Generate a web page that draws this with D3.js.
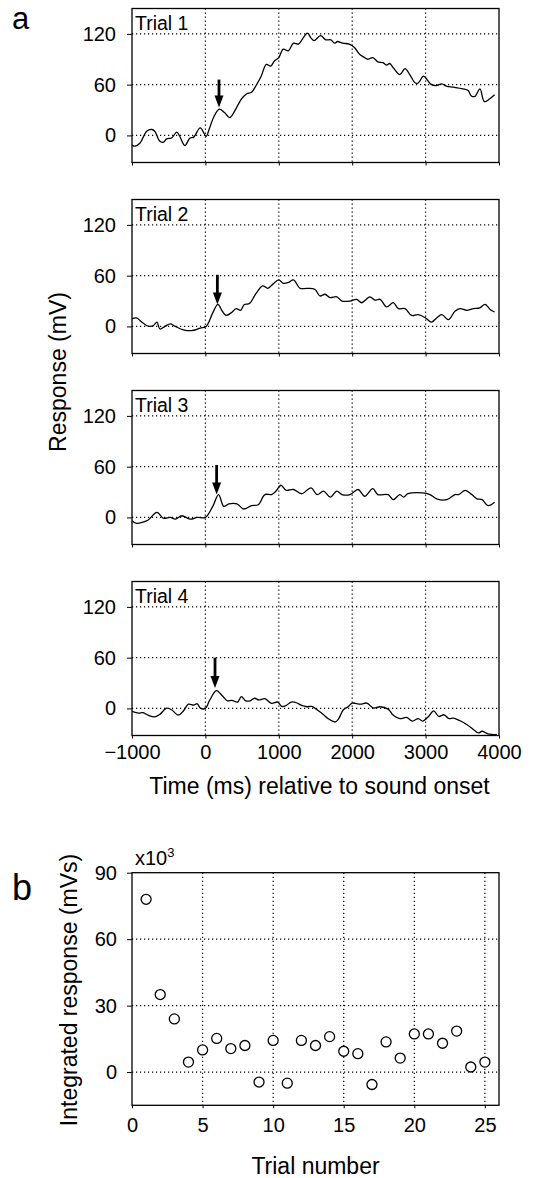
<!DOCTYPE html>
<html>
<head>
<meta charset="utf-8">
<script src="https://cdn.jsdelivr.net/npm/d3@7"></script>
<style>
  body { margin: 0; background: #fff; }
</style>
</head>
<body>
<div id="chart"></div>
<script>
// ---- data ----
var trialNames = ["Trial 1", "Trial 2", "Trial 3", "Trial 4"];
var timeTicks = [-1000, 0, 1000, 2000, 3000, 4000];
var respTicks = [0, 60, 120];

var trial1Time = [-1000,-960,-890,-800,-730,-690,-620,-570,-530,-460,-390,-350,-280,-210,-160,-70,10,50,120,190,260,330,400,490,560,630,690,760,830,890,940,1000,1060,1130,1200,1270,1330,1390,1440,1480,1570,1640,1710,1760,1800,1870,1960,2030,2100,2170,2210,2280,2350,2420,2470,2510,2560,2650,2720,2790,2860,2900,2970,3010,3080,3150,3220,3290,3380,3510,3580,3620,3670,3740,3800,3870,3940];
var trial1Resp = [-11.5,-12.7,-9,5,7,5,-7,-8,-4,-3,4,-1,-12,-3,-2,9,-1,7,23,31,27,21,29,43,49,51,59,70,84,82,88,92,102,100,109,108,115,121,115,112,118,113,113,109,111,109,108,104,96,92,90,92,87,86,83,85,80,72,79,71,62,62,70,67,60,59,61,58,57,55,53,47,46,55,40,43,48];

var trial2Time = [-1000,-940,-850,-780,-710,-660,-620,-550,-480,-410,-300,-190,-70,10,100,170,230,280,350,420,480,530,600,690,780,850,920,1000,1060,1130,1200,1290,1380,1490,1560,1630,1700,1790,1860,1970,2060,2130,2240,2310,2380,2470,2560,2630,2720,2810,2900,3000,3080,3150,3220,3310,3400,3470,3560,3650,3740,3810,3880,3940];
var trial2Resp = [9,10,4,0.4,1,5,-3,0,3,0,-4,-5,-2,0,16,26,18,13,16,21,19,26,27,39,48,45,50,55,51,52,55,45,45,44,36,38,34,35,30,30,32,28,35,31,32,23,28,21,21,13,14,10,5,10,14,8,18,21,19,21,22,26,20,17];

var trial3Time = [-1000,-940,-850,-780,-660,-570,-480,-410,-320,-210,-110,0,100,180,250,320,430,520,630,720,810,900,960,1030,1100,1200,1310,1440,1520,1610,1700,1790,1860,1970,2080,2170,2280,2350,2490,2560,2650,2700,2760,2960,3060,3150,3290,3400,3450,3540,3630,3700,3770,3850,3940];
var trial3Resp = [-4,-7,-5.5,-3,6,-1,0,-2,2,-2,0,0,13,27,13,16,16,10,14,15,27,27,31,38,32,33,28,35,27,31,24,31,27,27,33,25,34,27,27,21,27,24,28,29,27,22,21,27,27,32,27,22,21,14,18];

var trial4Time = [-1000,-910,-850,-780,-690,-620,-530,-460,-370,-300,-230,-160,-110,-70,0,60,150,230,300,360,440,490,550,610,670,730,810,900,985,1040,1100,1170,1240,1310,1380,1450,1540,1610,1670,1770,1810,1880,1950,2000,2110,2200,2290,2380,2490,2560,2650,2740,2820,2900,2960,3040,3110,3180,3250,3320,3380,3470,3560,3650,3720,3770,3850,3970];
var trial4Resp = [-3.5,-5.5,-5,-8,-10,-7,0.4,-1.6,-8,-3,5,4,5.5,0.4,0,10,21,15,9,9.5,7.5,14,9,9,12,10,11.5,6,7.5,2.4,3.5,7.5,6.7,3.5,2,2.4,-2.8,-7.5,-12,-16,-13,-1.6,2.4,6.3,5,6.3,0.4,2,-0.8,-8,-12,-10.7,-15,-12,-15,-9.5,-2.8,-9.5,-7.5,-12,-11.5,-14.6,-19,-25,-29,-27,-30,-31];

// arrows: time, response at top of shaft, response at tip
var arrowTime = [185, 163, 153, 131];
var arrowTop = [66, 61, 62, 60];
var arrowTip = [33, 26, 27, 24];

var trialNumber = [1,2,3,4,5,6,7,8,9,10,11,12,13,14,15,16,17,18,19,20,21,22,23,24,25];
var integrated = [78,35,24,4.5,10,15.2,10.6,12,-4.5,14.3,-5,14.3,12,16,9.4,8.3,-5.6,13.6,6.3,17.2,17.2,13,18.5,2.3,4.5];
var trialTicks = [0, 5, 10, 15, 20, 25];
var integTicks = [0, 30, 60, 90];

// ---- layout ----
var width = 541, height = 1178;
var left = 132, right = 499;
var panelTop = [8.5, 199.5, 390.5, 581.5], panelH = 154;
var font = "'Liberation Sans', Arial, Helvetica, sans-serif";

var svg = d3.select("#chart")
    .append("svg")
    .attr("width", width)
    .attr("height", height)
    .attr("font-family", font);

var traces = [
    d3.zip(trial1Time, trial1Resp),
    d3.zip(trial2Time, trial2Resp),
    d3.zip(trial3Time, trial3Resp),
    d3.zip(trial4Time, trial4Resp)
];

var x = d3.scaleLinear().domain([-1000, 4000]).range([left, right]);

function dotted(sel){
    sel.attr("stroke", "#000")
        .attr("stroke-width", 1.2)
        .attr("stroke-dasharray", "1.2,2.8");
}

traces.forEach(function(data, i){
    var top = panelTop[i], bottom = top + panelH;
    var y = d3.scaleLinear().domain([-32, 150]).range([bottom, top]);
    var g = svg.append("g");

    var clipId = "clip" + i;
    g.append("clipPath").attr("id", clipId)
        .append("rect")
        .attr("x", left).attr("y", top)
        .attr("width", right - left).attr("height", panelH);

    // grid
    g.selectAll(".vgrid")
        .data(timeTicks.slice(1, -1))
        .enter().append("line")
        .attr("x1", d => x(d)).attr("x2", d => x(d))
        .attr("y1", top).attr("y2", bottom)
        .call(dotted);
    g.selectAll(".hgrid")
        .data(respTicks)
        .enter().append("line")
        .attr("x1", left).attr("x2", right)
        .attr("y1", d => y(d)).attr("y2", d => y(d))
        .call(dotted);

    // y axis
    var ya = g.append("g")
        .attr("transform", "translate(" + left + ",0)")
        .call(d3.axisLeft(y).tickValues(respTicks).tickSize(5).tickPadding(11));
    ya.select(".domain").remove();
    ya.selectAll("text").attr("font-size", 20).attr("font-family", font).attr("fill", "#000");

    // x axis (labels only on last panel)
    var xa = g.append("g")
        .attr("transform", "translate(0," + bottom + ")")
        .call(d3.axisBottom(x).tickValues(timeTicks).tickSize(3).tickPadding(6)
            .tickFormat(i === 3 ? d3.format("d") : ""));
    xa.select(".domain").remove();
    xa.selectAll("text").attr("font-size", 20).attr("font-family", font).attr("fill", "#000");

    // frame
    g.append("rect")
        .attr("x", left).attr("y", top)
        .attr("width", right - left).attr("height", panelH)
        .attr("fill", "none").attr("stroke", "#000").attr("stroke-width", 1.3);

    // trace
    var line = d3.line()
        .x(d => x(d[0]))
        .y(d => y(d[1]))
        .curve(d3.curveCatmullRom.alpha(0.5));
    g.append("path")
        .datum(data)
        .attr("clip-path", "url(#" + clipId + ")")
        .attr("fill", "none")
        .attr("stroke", "#000")
        .attr("stroke-width", 1.3)
        .attr("d", line);

    // arrow
    var ax = x(arrowTime[i]), a1 = y(arrowTop[i]), a2 = y(arrowTip[i]);
    g.append("line")
        .attr("x1", ax).attr("x2", ax)
        .attr("y1", a1).attr("y2", a2 - 9)
        .attr("stroke", "#000").attr("stroke-width", 2.8);
    g.append("path")
        .attr("d", "M" + (ax - 4.5) + "," + (a2 - 12) + "L" + (ax + 4.5) + "," + (a2 - 12) + "L" + ax + "," + a2 + "Z")
        .attr("fill", "#000");

    // trial label
    g.append("text")
        .attr("x", left + 3).attr("y", top + 21)
        .attr("font-size", 19.5)
        .text(trialNames[i]);
});

// panel a titles
svg.append("text")
    .attr("x", 12).attr("y", 29)
    .attr("font-size", 31)
    .text("a");
svg.append("text")
    .attr("transform", "translate(66," + ((panelTop[0] + panelTop[3] + panelH) / 2) + ")rotate(-90)")
    .attr("text-anchor", "middle")
    .attr("font-size", 23)
    .text("Response (mV)");
svg.append("text")
    .attr("x", (left + right) / 2 + 4).attr("y", 794)
    .attr("text-anchor", "middle")
    .attr("font-size", 23)
    .text("Time (ms) relative to sound onset");

// ---- panel b ----
var bTop = 872.7, bBottom = 1105.3;
var xb = d3.scaleLinear().domain([0, 26]).range([left, right]);
var yb = d3.scaleLinear().domain([-15, 90]).range([bBottom, bTop]);
var gb = svg.append("g");

gb.selectAll(".vgrid")
    .data(trialTicks.slice(1))
    .enter().append("line")
    .attr("x1", d => xb(d)).attr("x2", d => xb(d))
    .attr("y1", bTop).attr("y2", bBottom)
    .call(dotted);
gb.selectAll(".hgrid")
    .data(integTicks.slice(0, -1))
    .enter().append("line")
    .attr("x1", left).attr("x2", right)
    .attr("y1", d => yb(d)).attr("y2", d => yb(d))
    .call(dotted);

var yba = gb.append("g")
    .attr("transform", "translate(" + left + ",0)")
    .call(d3.axisLeft(yb).tickValues(integTicks).tickSize(5).tickPadding(10));
yba.select(".domain").remove();
yba.selectAll("text").attr("font-size", 20).attr("font-family", font).attr("fill", "#000");

var xba = gb.append("g")
    .attr("transform", "translate(0," + bBottom + ")")
    .call(d3.axisBottom(xb).tickValues(trialTicks).tickSize(3).tickPadding(10));
xba.select(".domain").remove();
xba.selectAll("text").attr("font-size", 20).attr("font-family", font).attr("fill", "#000");

gb.append("rect")
    .attr("x", left).attr("y", bTop)
    .attr("width", right - left).attr("height", bBottom - bTop)
    .attr("fill", "none").attr("stroke", "#000").attr("stroke-width", 1.3);

gb.selectAll("circle")
    .data(d3.zip(trialNumber, integrated))
    .enter().append("circle")
    .attr("cx", d => xb(d[0]))
    .attr("cy", d => yb(d[1]))
    .attr("r", 5)
    .attr("fill", "#fff")
    .attr("stroke", "#000")
    .attr("stroke-width", 1.3);

var mult = svg.append("text")
    .attr("x", 135).attr("y", 865)
    .attr("font-size", 20);
mult.append("tspan").text("x10");
mult.append("tspan").attr("font-size", 13).attr("dy", -8).text("3");

svg.append("text")
    .attr("x", 12).attr("y", 900)
    .attr("font-size", 36)
    .text("b");
svg.append("text")
    .attr("transform", "translate(77," + ((bTop + bBottom) / 2 + 1) + ")rotate(-90)")
    .attr("text-anchor", "middle")
    .attr("font-size", 23)
    .text("Integrated response (mVs)");
svg.append("text")
    .attr("x", (left + right) / 2).attr("y", 1174)
    .attr("text-anchor", "middle")
    .attr("font-size", 23)
    .text("Trial number");
</script>
</body>
</html>
